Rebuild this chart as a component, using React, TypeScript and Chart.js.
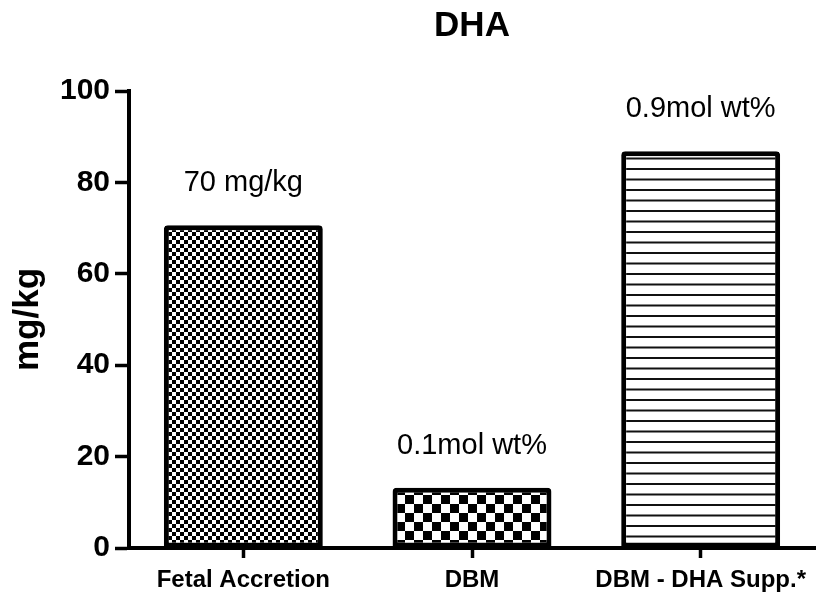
import React, { useEffect, useRef } from "react";
import { Chart, registerables } from "chart.js";

Chart.register(...registerables);

const TITLE = "DHA";
const Y_TITLE = "mg/kg";
const CATEGORIES = ["Fetal Accretion", "DBM", "DBM - DHA Supp.*"];
const VALUES = [70.6, 13.2, 86.8];
const BAR_NOTES = ["70 mg/kg", "0.1mol wt%", "0.9mol wt%"];
const Y_MIN = 0;
const Y_MAX = 100;
const Y_STEP = 20;

const FONT = "'Liberation Sans', Arial, Helvetica, sans-serif";

function makePattern(kind: string): CanvasPattern | string {
  const c = document.createElement("canvas");
  const ctx = c.getContext("2d");
  if (!ctx) return "#888";
  if (kind === "fine") {
    c.width = 8;
    c.height = 8;
    ctx.fillStyle = "#fff";
    ctx.fillRect(0, 0, 8, 8);
    ctx.fillStyle = "#000";
    ctx.fillRect(0, 0, 4, 4);
    ctx.fillRect(4, 4, 4, 4);
  } else if (kind === "coarse") {
    c.width = 18;
    c.height = 18;
    ctx.fillStyle = "#fff";
    ctx.fillRect(0, 0, 18, 18);
    ctx.fillStyle = "#000";
    ctx.fillRect(0, 0, 9, 9);
    ctx.fillRect(9, 9, 9, 9);
  } else {
    c.width = 20;
    c.height = 21;
    ctx.fillStyle = "#fff";
    ctx.fillRect(0, 0, 20, 21);
    ctx.fillStyle = "#111";
    ctx.fillRect(0, 0, 20, 2);
    ctx.fillRect(0, 10.5, 20, 2);
  }
  const p = ctx.createPattern(c, "repeat");
  return p || "#888";
}

const notesPlugin = {
  id: "barNotes",
  afterDatasetsDraw(chart: any) {
    const { ctx } = chart;
    const meta = chart.getDatasetMeta(0);
    ctx.save();
    ctx.fillStyle = "#000";
    ctx.font = `normal 29px ${FONT}`;
    ctx.textAlign = "center";
    ctx.textBaseline = "middle";
    meta.data.forEach((bar: any, i: number) => {
      ctx.fillText(BAR_NOTES[i], bar.x, bar.y - 42);
    });
    ctx.restore();
  },
  afterDraw(chart: any) {
    const { ctx, chartArea } = chart;
    ctx.save();
    ctx.fillStyle = "#000";
    ctx.font = `bold 35px ${FONT}`;
    ctx.textAlign = "center";
    ctx.textBaseline = "middle";
    ctx.fillText(TITLE, (chartArea.left + chartArea.right) / 2, 26);
    ctx.restore();
  },
};

export default function App() {
  const ref = useRef<HTMLCanvasElement | null>(null);
  useEffect(() => {
    if (!ref.current) return;
    const patterns = [makePattern("fine"), makePattern("coarse"), makePattern("lines")];
    const chart = new Chart(ref.current, {
      type: "bar",
      data: {
        labels: CATEGORIES,
        datasets: [
          {
            data: VALUES,
            backgroundColor: patterns as any,
            borderColor: "#000",
            borderWidth: 5,
            borderSkipped: false,
            borderRadius: { topLeft: 4, topRight: 4, bottomLeft: 0, bottomRight: 0 },
            barPercentage: 0.695,
            categoryPercentage: 1,
          },
        ],
      },
      options: {
        animation: false,
        responsive: false,
        maintainAspectRatio: false,
        layout: { padding: { top: 91, right: 5, bottom: 0, left: 0 } },
        plugins: {
          legend: { display: false },
          tooltip: { enabled: false },
          title: { display: false },
        },
        scales: {
          x: {
            type: "category",
            offset: true,
            afterFit: (scale: any) => {
              scale.height = 47;
            },
            grid: {
              offset: false,
              drawOnChartArea: false,
              drawTicks: true,
              tickLength: 10,
              tickWidth: 3.5,
              color: "#000",
            },
            border: { display: true, color: "#000", width: 4 },
            ticks: {
              color: "#000",
              font: { family: FONT, size: 24, weight: "bold" },
              padding: 8,
              maxRotation: 0,
              autoSkip: false,
            },
          },
          y: {
            min: Y_MIN,
            max: Y_MAX,
            afterFit: (scale: any) => {
              scale.width = 129;
            },
            grid: {
              drawOnChartArea: false,
              drawTicks: true,
              tickLength: 14,
              tickWidth: 3.5,
              color: "#000",
            },
            border: { display: true, color: "#000", width: 4 },
            ticks: {
              stepSize: Y_STEP,
              color: "#000",
              font: { family: FONT, size: 30, weight: "bold" },
              padding: 5,
            },
            title: {
              display: true,
              text: Y_TITLE,
              color: "#000",
              font: { family: FONT, size: 35, weight: "bold" },
              padding: { top: 7, bottom: 0 },
            },
          },
        },
      },
      plugins: [notesPlugin],
    });
    return () => chart.destroy();
  }, []);
  return (
    <div style={{ position: "fixed", left: 0, top: 0, width: 820, height: 595, background: "#fff" }}>
      <canvas ref={ref} width={820} height={595} style={{ display: "block" }} />
    </div>
  );
}
